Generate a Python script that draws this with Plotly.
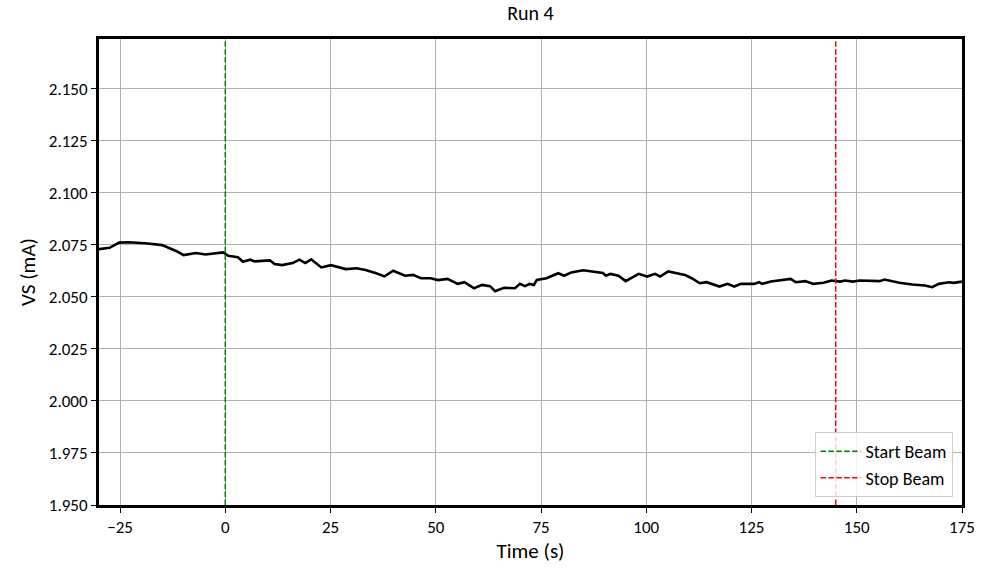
import plotly.graph_objects as go

time_s = [-30, -27.5, -25.2, -22.9, -19, -15, -11.7, -9.9, -7, -4.7, -0.5, 0.7, 3, 4.2, 5.9, 7,
          10.6, 11.7, 13.5, 16, 17.6, 19, 20.4, 22.8, 25.1, 28.6, 31.2, 33.3, 35.7, 37.8, 39.9,
          42.7, 44.6, 46.5, 48.8, 50.5, 52.8, 55.2, 56.8, 59.1, 61, 62.9, 64.1, 66.2, 68.8, 70,
          71.2, 72.3, 73.3, 74, 76.3, 79.1, 80.5, 82.2, 85, 88, 89.7, 90.4, 91.5, 93.4, 95.1,
          98.2, 100.2, 102.1, 103.3, 105.2, 107.5, 109.2, 110.8, 112.7, 114.3, 117.4, 119.3,
          120.9, 122.5, 125.6, 126.8, 127.5, 129.6, 132.7, 134.3, 135.5, 137.8, 139.7, 142.1,
          144, 146.1, 147.2, 149.1, 150.7, 155.4, 156.6, 160.1, 163.2, 166.2, 167.9, 169.5,
          171.9, 173, 175]
vs_ma = [2.0729, 2.0735, 2.0760, 2.0762, 2.0757, 2.0748, 2.0720, 2.0700, 2.0710, 2.0703, 2.0713,
         2.0697, 2.0690, 2.0668, 2.0678, 2.0670, 2.0675, 2.0657, 2.0652, 2.0662, 2.0678, 2.0662,
         2.0680, 2.0641, 2.0652, 2.0633, 2.0637, 2.0629, 2.0614, 2.0598, 2.0625, 2.0601, 2.0605,
         2.0589, 2.0589, 2.0580, 2.0586, 2.0562, 2.0570, 2.0541, 2.0557, 2.0551, 2.0527, 2.0543,
         2.0541, 2.0562, 2.0551, 2.0562, 2.0557, 2.0581, 2.0589, 2.0613, 2.0601, 2.0617, 2.0627,
         2.0617, 2.0614, 2.0601, 2.0610, 2.0601, 2.0575, 2.0610, 2.0597, 2.0610, 2.0597, 2.0622,
         2.0614, 2.0605, 2.0589, 2.0565, 2.0570, 2.0549, 2.0562, 2.0549, 2.0562, 2.0562, 2.0570,
         2.0562, 2.0573, 2.0580, 2.0586, 2.0570, 2.0575, 2.0562, 2.0567, 2.0578, 2.0573, 2.0578,
         2.0573, 2.0578, 2.0575, 2.0583, 2.0567, 2.0559, 2.0554, 2.0546, 2.0562, 2.0570, 2.0567,
         2.0573]

start_beam = 0
stop_beam = 145
x_range = [-30, 175]
y_range = [1.95, 2.1738]
x_ticks = [-25, 0, 25, 50, 75, 100, 125, 150, 175]
x_tick_labels = ["\u221225", "0", "25", "50", "75", "100", "125", "150", "175"]
y_ticks = [1.950, 1.975, 2.000, 2.025, 2.050, 2.075, 2.100, 2.125, 2.150]
y_tick_labels = ["%.3f" % v for v in y_ticks]

FONT = "Carlito, Calibri, Lato, sans-serif"
DASH = "5.5px,2.4px"

fig = go.Figure()
fig.add_trace(go.Scatter(x=time_s, y=vs_ma, mode="lines",
                         line=dict(color="black", width=2.6), showlegend=False))
fig.add_trace(go.Scatter(x=[start_beam, start_beam], y=y_range, mode="lines",
                         line=dict(color="green", width=1.5, dash=DASH), name="Start Beam"))
fig.add_trace(go.Scatter(x=[stop_beam, stop_beam], y=y_range, mode="lines",
                         line=dict(color="red", width=1.5, dash=DASH), name="Stop Beam"))

axis_common = dict(showline=True, linecolor="black", linewidth=3, mirror=True,
                   showgrid=True, gridcolor="#b0b0b0", gridwidth=1,
                   ticks="outside", ticklen=5, tickwidth=1, tickcolor="black",
                   zeroline=False, tickfont=dict(size=17, color="black", family=FONT))

fig.update_xaxes(range=x_range, tickvals=x_ticks, ticktext=x_tick_labels,
                 ticklabeloverflow="allow",
                 title=dict(text="Time (s)", font=dict(size=21, color="black", family=FONT), standoff=4),
                 **axis_common)
fig.update_yaxes(range=y_range, tickvals=y_ticks, ticktext=y_tick_labels,
                 title=dict(text="VS (mA)", font=dict(size=21, color="black", family=FONT), standoff=8),
                 **axis_common)

fig.update_layout(
    width=987, height=569,
    margin=dict(l=99, r=12, t=39, b=61),
    plot_bgcolor="white", paper_bgcolor="white",
    font=dict(family=FONT, color="black"),
    title=dict(text="Run 4", x=0.5, xref="paper", xanchor="center", y=1, yref="container",
               yanchor="top", pad=dict(t=6), font=dict(size=20, color="black", family=FONT)),
    legend=dict(x=0.989, y=0.017, xanchor="right", yanchor="bottom", itemwidth=40,
                bgcolor="rgba(255,255,255,0.8)", bordercolor="#cccccc", borderwidth=1,
                font=dict(size=18, color="black", family=FONT)),
)

fig.write_html("out.html", config={"displayModeBar": False},
               post_script="document.body.style.margin='0';document.body.style.overflow='hidden';")
